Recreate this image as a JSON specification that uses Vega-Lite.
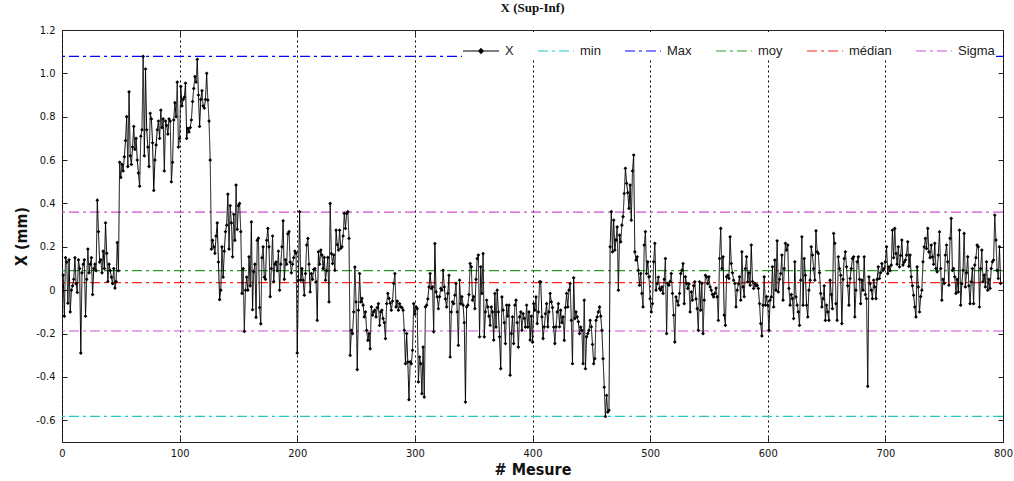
{
"$schema": "https://vega.github.io/schema/vega-lite/v6.json",
"autosize": "none",
"width": 941,
"height": 412,
"padding": {"left": 62, "top": 30, "right": 11, "bottom": 39},
"background": "white",
"title": {"text": "X (Sup-Inf)", "font": "Liberation Serif", "fontSize": 13, "fontWeight": "bold", "color": "#111", "anchor": "middle", "offset": 9},
"config": {"view": {"stroke": "#222", "strokeWidth": 1}, "font": "'DejaVu Sans Condensed', 'Liberation Sans', sans-serif",
"legend": {"orient": "none", "legendX": 400, "legendY": 2, "direction": "horizontal", "columns": 6, "fillColor": "white", "strokeColor": "white", "padding": 0, "columnPadding": 21, "symbolSize": 1296, "symbolStrokeWidth": 1.2, "symbolType": "stroke", "labelFont": "Liberation Sans", "labelFontSize": 13, "labelColor": "#222", "labelOffset": 5}},
"datasets": {
"ref": [{"name": "min", "y": -0.582}, {"name": "Max", "y": 1.078}, {"name": "moy", "y": 0.09}, {"name": "médian", "y": 0.035}, {"name": "Sigma", "y": 0.36}, {"name": "Sigma", "y": -0.188}],
"ser": [
{"m":1,"x":0.07},{"m":2,"x":-0.12},{"m":3,"x":0.15},{"m":4,"x":0.13},{"m":5,"x":-0.06},{"m":6,"x":0.14},{"m":7,"x":-0.10},{"m":8,"x":0.0},{"m":9,"x":0.02},{"m":10,"x":0.05},
{"m":11,"x":0.15},{"m":12,"x":0.03},{"m":13,"x":-0.01},{"m":14,"x":0.14},{"m":15,"x":0.10},{"m":16,"x":-0.29},{"m":17,"x":0.08},{"m":18,"x":0.12},{"m":19,"x":0.14},{"m":20,"x":-0.12},
{"m":21,"x":0.05},{"m":22,"x":0.19},{"m":23,"x":0.08},{"m":24,"x":0.12},{"m":25,"x":0.15},{"m":26,"x":-0.02},{"m":27,"x":0.10},{"m":28,"x":0.12},{"m":29,"x":0.09},{"m":30,"x":0.415},
{"m":31,"x":0.27},{"m":32,"x":0.13},{"m":33,"x":0.14},{"m":34,"x":0.08},{"m":35,"x":0.18},{"m":36,"x":0.10},{"m":37,"x":0.31},{"m":38,"x":0.17},{"m":39,"x":0.04},{"m":40,"x":0.12},
{"m":41,"x":0.09},{"m":42,"x":0.06},{"m":43,"x":0.03},{"m":44,"x":0.10},{"m":45,"x":0.01},{"m":46,"x":0.04},{"m":47,"x":0.22},{"m":48,"x":0.09},{"m":49,"x":0.59},{"m":50,"x":0.52},
{"m":51,"x":0.58},{"m":52,"x":0.55},{"m":53,"x":0.615},{"m":54,"x":0.69},{"m":55,"x":0.80},{"m":56,"x":0.57},{"m":57,"x":0.915},{"m":58,"x":0.62},{"m":59,"x":0.58},{"m":60,"x":0.66},
{"m":61,"x":0.755},{"m":62,"x":0.65},{"m":63,"x":0.70},{"m":64,"x":0.60},{"m":65,"x":0.54},{"m":66,"x":0.48},{"m":67,"x":0.71},{"m":68,"x":0.74},{"m":69,"x":1.078},{"m":70,"x":0.62},
{"m":71,"x":1.02},{"m":72,"x":0.74},{"m":73,"x":0.66},{"m":74,"x":0.57},{"m":75,"x":0.816},{"m":76,"x":0.79},{"m":77,"x":0.68},{"m":78,"x":0.46},{"m":79,"x":0.60},{"m":80,"x":0.67},
{"m":81,"x":0.74},{"m":82,"x":0.78},{"m":83,"x":0.70},{"m":84,"x":0.83},{"m":85,"x":0.75},{"m":86,"x":0.79},{"m":87,"x":0.55},{"m":88,"x":0.78},{"m":89,"x":0.76},{"m":90,"x":0.72},
{"m":91,"x":0.79},{"m":92,"x":0.78},{"m":93,"x":0.50},{"m":94,"x":0.59},{"m":95,"x":0.785},{"m":96,"x":0.865},{"m":97,"x":0.80},{"m":98,"x":0.96},{"m":99,"x":0.66},{"m":100,"x":0.70},
{"m":101,"x":0.94},{"m":102,"x":0.85},{"m":103,"x":0.88},{"m":104,"x":0.89},{"m":105,"x":0.955},{"m":106,"x":0.70},{"m":107,"x":0.746},{"m":108,"x":0.73},{"m":109,"x":0.75},{"m":110,"x":0.785},
{"m":111,"x":0.87},{"m":112,"x":0.93},{"m":113,"x":0.985},{"m":114,"x":0.96},{"m":115,"x":1.065},{"m":116,"x":0.90},{"m":117,"x":0.755},{"m":118,"x":0.88},{"m":119,"x":0.92},{"m":120,"x":0.85},
{"m":121,"x":0.84},{"m":122,"x":0.88},{"m":123,"x":1.0},{"m":124,"x":0.877},{"m":125,"x":0.78},{"m":126,"x":0.60},{"m":127,"x":0.19},{"m":128,"x":0.23},{"m":129,"x":0.20},{"m":130,"x":0.17},
{"m":131,"x":0.25},{"m":132,"x":0.31},{"m":133,"x":0.13},{"m":134,"x":-0.043},{"m":135,"x":0.0},{"m":136,"x":0.20},{"m":137,"x":0.06},{"m":138,"x":0.18},{"m":139,"x":0.27},{"m":140,"x":0.30},
{"m":141,"x":0.443},{"m":142,"x":0.19},{"m":143,"x":0.39},{"m":144,"x":0.31},{"m":145,"x":0.154},{"m":146,"x":0.35},{"m":147,"x":0.23},{"m":148,"x":0.485},{"m":149,"x":0.28},{"m":150,"x":0.39},
{"m":151,"x":0.40},{"m":152,"x":0.27},{"m":153,"x":-0.015},{"m":154,"x":0.10},{"m":155,"x":-0.19},{"m":156,"x":0.0},{"m":157,"x":0.06},{"m":158,"x":0.0},{"m":159,"x":0.154},{"m":160,"x":0.02},
{"m":161,"x":0.315},{"m":162,"x":-0.09},{"m":163,"x":0.085},{"m":164,"x":0.12},{"m":165,"x":-0.125},{"m":166,"x":0.23},{"m":167,"x":0.24},{"m":168,"x":-0.08},{"m":169,"x":-0.155},{"m":170,"x":0.15},
{"m":171,"x":0.20},{"m":172,"x":0.06},{"m":173,"x":0.05},{"m":174,"x":0.23},{"m":175,"x":0.285},{"m":176,"x":0.20},{"m":177,"x":-0.03},{"m":178,"x":0.10},{"m":179,"x":0.25},{"m":180,"x":0.04},
{"m":181,"x":0.12},{"m":182,"x":0.13},{"m":183,"x":0.09},{"m":184,"x":0.18},{"m":185,"x":0.0},{"m":186,"x":0.12},{"m":187,"x":0.20},{"m":188,"x":0.32},{"m":189,"x":0.05},{"m":190,"x":0.14},
{"m":191,"x":0.12},{"m":192,"x":0.26},{"m":193,"x":0.27},{"m":194,"x":0.13},{"m":195,"x":0.08},{"m":196,"x":0.12},{"m":197,"x":0.15},{"m":198,"x":0.18},{"m":199,"x":0.17},{"m":200,"x":-0.29},
{"m":201,"x":0.046},{"m":202,"x":0.362},{"m":203,"x":0.046},{"m":204,"x":0.10},{"m":205,"x":0.046},{"m":206,"x":-0.023},{"m":207,"x":0.077},{"m":208,"x":0.208},{"m":209,"x":0.239},{"m":210,"x":0.12},
{"m":211,"x":-0.008},{"m":212,"x":0.077},{"m":213,"x":0.05},{"m":214,"x":0.095},{"m":215,"x":0.10},{"m":216,"x":0.038},{"m":217,"x":-0.139},{"m":218,"x":0.177},{"m":219,"x":0.12},{"m":220,"x":0.185},
{"m":221,"x":0.162},{"m":222,"x":0.10},{"m":223,"x":0.151},{"m":224,"x":0.046},{"m":225,"x":0.09},{"m":226,"x":0.151},{"m":227,"x":-0.054},{"m":228,"x":0.40},{"m":229,"x":0.169},{"m":230,"x":0.123},
{"m":231,"x":0.162},{"m":232,"x":0.092},{"m":233,"x":0.277},{"m":234,"x":0.21},{"m":235,"x":0.185},{"m":236,"x":0.277},{"m":237,"x":0.193},{"m":238,"x":0.2},{"m":239,"x":0.25},{"m":240,"x":0.354},
{"m":241,"x":0.285},{"m":242,"x":0.354},{"m":243,"x":0.362},{"m":244,"x":0.239},{"m":245,"x":-0.30},{"m":246,"x":-0.185},{"m":247,"x":-0.2},{"m":248,"x":-0.10},{"m":249,"x":0.107},{"m":250,"x":-0.054},
{"m":251,"x":-0.366},{"m":252,"x":-0.092},{"m":253,"x":0.077},{"m":254,"x":-0.054},{"m":255,"x":-0.038},{"m":256,"x":-0.069},{"m":257,"x":-0.123},{"m":258,"x":-0.10},{"m":259,"x":-0.185},{"m":260,"x":-0.231},
{"m":261,"x":-0.20},{"m":262,"x":-0.27},{"m":263,"x":-0.077},{"m":264,"x":-0.115},{"m":265,"x":-0.10},{"m":266,"x":-0.092},{"m":267,"x":-0.123},{"m":268,"x":-0.08},{"m":269,"x":-0.062},{"m":270,"x":-0.162},
{"m":271,"x":-0.10},{"m":272,"x":-0.092},{"m":273,"x":-0.131},{"m":274,"x":-0.15},{"m":275,"x":-0.223},{"m":276,"x":-0.062},{"m":277,"x":-0.015},{"m":278,"x":-0.038},{"m":279,"x":-0.06},{"m":280,"x":-0.092},
{"m":281,"x":-0.05},{"m":282,"x":0.031},{"m":283,"x":0.077},{"m":284,"x":-0.077},{"m":285,"x":-0.05},{"m":286,"x":-0.092},{"m":287,"x":-0.062},{"m":288,"x":-0.077},{"m":289,"x":-0.08},{"m":290,"x":-0.092},
{"m":291,"x":-0.185},{"m":292,"x":-0.339},{"m":293,"x":-0.20},{"m":294,"x":-0.331},{"m":295,"x":-0.505},{"m":296,"x":-0.331},{"m":297,"x":-0.339},{"m":298,"x":-0.277},{"m":299,"x":-0.062},{"m":300,"x":-0.11},
{"m":301,"x":-0.077},{"m":302,"x":-0.085},{"m":303,"x":-0.423},{"m":304,"x":-0.308},{"m":305,"x":-0.339},{"m":306,"x":-0.477},{"m":307,"x":-0.262},{"m":308,"x":-0.493},{"m":309,"x":-0.077},{"m":310,"x":-0.069},
{"m":311,"x":-0.04},{"m":312,"x":0.015},{"m":313,"x":0.077},{"m":314,"x":0.008},{"m":315,"x":0.015},{"m":316,"x":-0.192},{"m":317,"x":0.215},{"m":318,"x":-0.008},{"m":319,"x":-0.031},{"m":320,"x":-0.085},
{"m":321,"x":-0.03},{"m":322,"x":0.008},{"m":323,"x":0.0},{"m":324,"x":0.092},{"m":325,"x":0.015},{"m":326,"x":-0.04},{"m":327,"x":-0.077},{"m":328,"x":-0.015},{"m":329,"x":0.069},{"m":330,"x":-0.308},
{"m":331,"x":-0.10},{"m":332,"x":-0.054},{"m":333,"x":-0.062},{"m":334,"x":-0.023},{"m":335,"x":0.031},{"m":336,"x":-0.10},{"m":337,"x":-0.254},{"m":338,"x":0.046},{"m":339,"x":-0.062},{"m":340,"x":-0.03},
{"m":341,"x":-0.069},{"m":342,"x":-0.15},{"m":343,"x":-0.516},{"m":344,"x":-0.077},{"m":345,"x":-0.069},{"m":346,"x":-0.02},{"m":347,"x":0.123},{"m":348,"x":0.108},{"m":349,"x":-0.046},{"m":350,"x":-0.03},
{"m":351,"x":-0.085},{"m":352,"x":0.05},{"m":353,"x":0.146},{"m":354,"x":0.162},{"m":355,"x":-0.215},{"m":356,"x":0.108},{"m":357,"x":-0.015},{"m":358,"x":0.169},{"m":359,"x":-0.215},{"m":360,"x":-0.10},
{"m":361,"x":-0.046},{"m":362,"x":-0.077},{"m":363,"x":-0.12},{"m":364,"x":-0.162},{"m":365,"x":-0.077},{"m":366,"x":-0.10},{"m":367,"x":-0.23},{"m":368,"x":-0.015},{"m":369,"x":-0.17},{"m":370,"x":0.0},
{"m":371,"x":-0.10},{"m":372,"x":-0.215},{"m":373,"x":-0.362},{"m":374,"x":-0.031},{"m":375,"x":-0.092},{"m":376,"x":-0.15},{"m":377,"x":-0.246},{"m":378,"x":-0.069},{"m":379,"x":-0.12},{"m":380,"x":-0.069},
{"m":381,"x":-0.392},{"m":382,"x":-0.20},{"m":383,"x":-0.123},{"m":384,"x":-0.246},{"m":385,"x":-0.069},{"m":386,"x":-0.046},{"m":387,"x":-0.15},{"m":388,"x":-0.262},{"m":389,"x":-0.123},{"m":390,"x":-0.10},
{"m":391,"x":-0.185},{"m":392,"x":-0.108},{"m":393,"x":-0.13},{"m":394,"x":-0.17},{"m":395,"x":-0.069},{"m":396,"x":-0.17},{"m":397,"x":-0.10},{"m":398,"x":-0.23},{"m":399,"x":-0.12},{"m":400,"x":-0.24},
{"m":401,"x":-0.062},{"m":402,"x":-0.092},{"m":403,"x":-0.031},{"m":404,"x":-0.154},{"m":405,"x":-0.10},{"m":406,"x":0.038},{"m":407,"x":0.038},{"m":408,"x":-0.123},{"m":409,"x":-0.223},{"m":410,"x":-0.169},
{"m":411,"x":-0.108},{"m":412,"x":-0.062},{"m":413,"x":-0.169},{"m":414,"x":-0.10},{"m":415,"x":-0.015},{"m":416,"x":-0.054},{"m":417,"x":-0.08},{"m":418,"x":-0.17},{"m":419,"x":-0.246},{"m":420,"x":-0.169},
{"m":421,"x":-0.10},{"m":422,"x":-0.062},{"m":423,"x":-0.169},{"m":424,"x":-0.092},{"m":425,"x":-0.15},{"m":426,"x":-0.123},{"m":427,"x":-0.231},{"m":428,"x":-0.08},{"m":429,"x":-0.015},{"m":430,"x":-0.077},
{"m":431,"x":0.0},{"m":432,"x":0.031},{"m":433,"x":-0.139},{"m":434,"x":-0.339},{"m":435,"x":0.057},{"m":436,"x":-0.131},{"m":437,"x":-0.10},{"m":438,"x":-0.123},{"m":439,"x":-0.146},{"m":440,"x":-0.20},
{"m":441,"x":-0.17},{"m":442,"x":-0.185},{"m":443,"x":-0.339},{"m":444,"x":-0.046},{"m":445,"x":-0.362},{"m":446,"x":-0.215},{"m":447,"x":-0.20},{"m":448,"x":-0.185},{"m":449,"x":-0.139},{"m":450,"x":-0.169},
{"m":451,"x":-0.25},{"m":452,"x":-0.339},{"m":453,"x":-0.316},{"m":454,"x":-0.139},{"m":455,"x":-0.123},{"m":456,"x":-0.10},{"m":457,"x":-0.077},{"m":458,"x":-0.12},{"m":459,"x":-0.185},{"m":460,"x":-0.316},
{"m":461,"x":-0.447},{"m":462,"x":-0.582},{"m":463,"x":-0.485},{"m":464,"x":-0.562},{"m":465,"x":-0.554},{"m":466,"x":0.20},{"m":467,"x":0.362},{"m":468,"x":0.177},{"m":469,"x":0.323},{"m":470,"x":0.185},
{"m":471,"x":0.231},{"m":472,"x":0.292},{"m":473,"x":0.0},{"m":474,"x":0.254},{"m":475,"x":0.223},{"m":476,"x":0.30},{"m":477,"x":0.339},{"m":478,"x":0.446},{"m":479,"x":0.562},{"m":480,"x":0.493},
{"m":481,"x":0.45},{"m":482,"x":0.377},{"m":483,"x":0.485},{"m":484,"x":0.323},{"m":485,"x":0.55},{"m":486,"x":0.623},{"m":487,"x":0.177},{"m":488,"x":0.139},{"m":489,"x":0.154},{"m":490,"x":0.092},
{"m":491,"x":0.023},{"m":492,"x":0.077},{"m":493,"x":-0.015},{"m":494,"x":-0.077},{"m":495,"x":0.208},{"m":496,"x":0.27},{"m":497,"x":0.077},{"m":498,"x":0.131},{"m":499,"x":0.062},{"m":500,"x":-0.039},
{"m":501,"x":-0.10},{"m":502,"x":-0.062},{"m":503,"x":0.131},{"m":504,"x":0.216},{"m":505,"x":0.0},{"m":506,"x":0.031},{"m":507,"x":0.06},{"m":508,"x":0.008},{"m":509,"x":0.0},{"m":510,"x":0.015},
{"m":511,"x":-0.015},{"m":512,"x":0.05},{"m":513,"x":0.146},{"m":514,"x":-0.20},{"m":515,"x":0.031},{"m":516,"x":0.023},{"m":517,"x":0.04},{"m":518,"x":0.077},{"m":519,"x":-0.015},{"m":520,"x":-0.115},
{"m":521,"x":-0.239},{"m":522,"x":-0.031},{"m":523,"x":-0.05},{"m":524,"x":-0.069},{"m":525,"x":-0.015},{"m":526,"x":0.077},{"m":527,"x":0.092},{"m":528,"x":0.123},{"m":529,"x":-0.062},{"m":530,"x":0.062},
{"m":531,"x":0.031},{"m":532,"x":0.008},{"m":533,"x":0.03},{"m":534,"x":-0.10},{"m":535,"x":-0.008},{"m":536,"x":-0.046},{"m":537,"x":0.02},{"m":538,"x":0.039},{"m":539,"x":-0.04},{"m":540,"x":-0.085},
{"m":541,"x":-0.185},{"m":542,"x":0.039},{"m":543,"x":-0.092},{"m":544,"x":0.031},{"m":545,"x":-0.20},{"m":546,"x":-0.046},{"m":547,"x":0.069},{"m":548,"x":0.062},{"m":549,"x":0.03},{"m":550,"x":0.062},
{"m":551,"x":0.015},{"m":552,"x":0.0},{"m":553,"x":-0.02},{"m":554,"x":-0.031},{"m":555,"x":-0.015},{"m":556,"x":0.01},{"m":557,"x":-0.031},{"m":558,"x":-0.139},{"m":559,"x":0.146},{"m":560,"x":0.285},
{"m":561,"x":0.10},{"m":562,"x":0.154},{"m":563,"x":-0.115},{"m":564,"x":-0.162},{"m":565,"x":0.062},{"m":566,"x":0.069},{"m":567,"x":0.054},{"m":568,"x":0.246},{"m":569,"x":0.123},{"m":570,"x":0.08},
{"m":571,"x":0.046},{"m":572,"x":0.031},{"m":573,"x":-0.077},{"m":574,"x":0.0},{"m":575,"x":0.03},{"m":576,"x":0.062},{"m":577,"x":-0.046},{"m":578,"x":0.177},{"m":579,"x":0.015},{"m":580,"x":-0.03},
{"m":581,"x":0.10},{"m":582,"x":0.154},{"m":583,"x":0.039},{"m":584,"x":0.08},{"m":585,"x":0.023},{"m":586,"x":0.208},{"m":587,"x":0.04},{"m":588,"x":0.008},{"m":589,"x":0.031},{"m":590,"x":0.02},
{"m":591,"x":0.023},{"m":592,"x":0.008},{"m":593,"x":-0.062},{"m":594,"x":-0.154},{"m":595,"x":-0.211},{"m":596,"x":-0.069},{"m":597,"x":0.062},{"m":598,"x":-0.069},{"m":599,"x":-0.03},{"m":600,"x":-0.069},
{"m":601,"x":-0.185},{"m":602,"x":-0.046},{"m":603,"x":-0.031},{"m":604,"x":0.108},{"m":605,"x":-0.077},{"m":606,"x":0.139},{"m":607,"x":0.0},{"m":608,"x":0.228},{"m":609,"x":-0.008},{"m":610,"x":0.05},
{"m":611,"x":0.077},{"m":612,"x":0.162},{"m":613,"x":-0.046},{"m":614,"x":0.10},{"m":615,"x":0.216},{"m":616,"x":0.185},{"m":617,"x":0.208},{"m":618,"x":0.008},{"m":619,"x":-0.069},{"m":620,"x":-0.02},
{"m":621,"x":-0.039},{"m":622,"x":-0.131},{"m":623,"x":0.131},{"m":624,"x":-0.031},{"m":625,"x":-0.069},{"m":626,"x":-0.10},{"m":627,"x":-0.162},{"m":628,"x":0.046},{"m":629,"x":0.246},{"m":630,"x":-0.069},
{"m":631,"x":0.146},{"m":632,"x":0.069},{"m":633,"x":-0.069},{"m":634,"x":-0.123},{"m":635,"x":0.0},{"m":636,"x":0.046},{"m":637,"x":0.2},{"m":638,"x":0.162},{"m":639,"x":0.10},{"m":640,"x":0.046},
{"m":641,"x":0.274},{"m":642,"x":0.177},{"m":643,"x":0.169},{"m":644,"x":0.08},{"m":645,"x":-0.015},{"m":646,"x":-0.077},{"m":647,"x":-0.039},{"m":648,"x":0.02},{"m":649,"x":-0.139},{"m":650,"x":-0.069},
{"m":651,"x":-0.10},{"m":652,"x":-0.139},{"m":653,"x":0.046},{"m":654,"x":-0.02},{"m":655,"x":-0.085},{"m":656,"x":0.262},{"m":657,"x":0.216},{"m":658,"x":-0.062},{"m":659,"x":-0.139},{"m":660,"x":0.154},
{"m":661,"x":0.10},{"m":662,"x":0.069},{"m":663,"x":-0.154},{"m":664,"x":0.05},{"m":665,"x":0.146},{"m":666,"x":0.177},{"m":667,"x":0.108},{"m":668,"x":0.02},{"m":669,"x":-0.069},{"m":670,"x":0.054},
{"m":671,"x":0.10},{"m":672,"x":0.146},{"m":673,"x":0.154},{"m":674,"x":-0.123},{"m":675,"x":0.0},{"m":676,"x":0.131},{"m":677,"x":0.154},{"m":678,"x":0.05},{"m":679,"x":-0.062},{"m":680,"x":0.046},
{"m":681,"x":0.0},{"m":682,"x":0.154},{"m":683,"x":-0.02},{"m":684,"x":-0.039},{"m":685,"x":-0.443},{"m":686,"x":0.062},{"m":687,"x":0.03},{"m":688,"x":0.0},{"m":689,"x":-0.039},{"m":690,"x":0.046},
{"m":691,"x":0.015},{"m":692,"x":-0.039},{"m":693,"x":0.05},{"m":694,"x":0.108},{"m":695,"x":0.054},{"m":696,"x":0.08},{"m":697,"x":0.123},{"m":698,"x":0.092},{"m":699,"x":0.10},{"m":700,"x":0.131},
{"m":701,"x":0.2},{"m":702,"x":0.077},{"m":703,"x":0.108},{"m":704,"x":0.09},{"m":705,"x":0.116},{"m":706,"x":0.277},{"m":707,"x":0.15},{"m":708,"x":0.285},{"m":709,"x":0.169},{"m":710,"x":0.12},
{"m":711,"x":0.2},{"m":712,"x":0.108},{"m":713,"x":0.16},{"m":714,"x":0.231},{"m":715,"x":0.116},{"m":716,"x":0.13},{"m":717,"x":0.139},{"m":718,"x":0.162},{"m":719,"x":0.223},{"m":720,"x":0.11},
{"m":721,"x":0.162},{"m":722,"x":0.062},{"m":723,"x":0.02},{"m":724,"x":-0.023},{"m":725,"x":-0.077},{"m":726,"x":-0.123},{"m":727,"x":0.108},{"m":728,"x":0.015},{"m":729,"x":-0.10},{"m":730,"x":-0.03},
{"m":731,"x":0.0},{"m":732,"x":0.131},{"m":733,"x":0.20},{"m":734,"x":0.239},{"m":735,"x":0.192},{"m":736,"x":0.285},{"m":737,"x":0.177},{"m":738,"x":0.15},{"m":739,"x":0.208},{"m":740,"x":0.154},
{"m":741,"x":0.12},{"m":742,"x":0.216},{"m":743,"x":0.10},{"m":744,"x":0.085},{"m":745,"x":0.162},{"m":746,"x":0.269},{"m":747,"x":0.10},{"m":748,"x":-0.046},{"m":749,"x":0.05},{"m":750,"x":0.031},
{"m":751,"x":0.162},{"m":752,"x":0.208},{"m":753,"x":0.131},{"m":754,"x":0.023},{"m":755,"x":0.239},{"m":756,"x":0.331},{"m":757,"x":0.092},{"m":758,"x":0.10},{"m":759,"x":0.062},{"m":760,"x":-0.015},
{"m":761,"x":0.05},{"m":762,"x":-0.008},{"m":763,"x":0.277},{"m":764,"x":-0.069},{"m":765,"x":0.03},{"m":766,"x":0.092},{"m":767,"x":0.262},{"m":768,"x":0.015},{"m":769,"x":0.08},{"m":770,"x":0.154},
{"m":771,"x":0.02},{"m":772,"x":-0.062},{"m":773,"x":0.039},{"m":774,"x":0.10},{"m":775,"x":-0.062},{"m":776,"x":0.116},{"m":777,"x":0.15},{"m":778,"x":0.208},{"m":779,"x":0.2},{"m":780,"x":-0.077},
{"m":781,"x":0.10},{"m":782,"x":0.185},{"m":783,"x":0.039},{"m":784,"x":0.07},{"m":785,"x":0.015},{"m":786,"x":0.131},{"m":787,"x":0.0},{"m":788,"x":0.05},{"m":789,"x":0.008},{"m":790,"x":0.10},
{"m":791,"x":0.131},{"m":792,"x":0.139},{"m":793,"x":0.346},{"m":794,"x":0.231},{"m":795,"x":0.092},{"m":796,"x":0.054},{"m":797,"x":0.2},{"m":798,"x":0.031}
]
},
"layer": [
{
"data": {"name": "ref"},
"mark": {"type": "rule", "strokeWidth": 1.2},
"encoding": {
"y": {"field": "y", "type": "quantitative", "scale": {"domain": [-0.7, 1.2], "nice": false, "zero": false}, "axis": null},
"color": {"field": "name", "type": "nominal", "title": null,
"legend": {"title": null, "encode": {"symbols": {"update": {"shape": {"signal": "datum.value === 'X' ? 'M-1,0H1M-0.13,0L0,-0.13L0.13,0L0,0.13Z' : 'stroke'"}, "strokeDash": {"signal": "datum.value === 'X' ? [1,0] : [10,4,3,4]"}, "fill": {"signal": "datum.value === 'X' ? 'black' : 'transparent'"}}}}}},
"strokeDash": {"field": "name", "type": "nominal", "title": null, "legend": null}
}
},
{
"data": {"name": "ser"},
"mark": {"type": "line", "strokeWidth": 1, "point": {"filled": true, "shape": "diamond", "size": 14, "color": "black"}},
"encoding": {
"x": {"field": "m", "type": "quantitative", "scale": {"domain": [0, 800], "nice": false, "zero": false},
"axis": {"orient": "bottom", "values": [0,100,200,300,400,500,600,700,800], "grid": true, "gridDash": [2,3], "gridColor": "black", "gridOpacity": 1, "gridWidth": 1, "domain": false, "ticks": true, "tickSize": -5, "tickColor": "#222", "labelFont": "'DejaVu Sans Condensed', 'Liberation Sans', sans-serif", "labelFontSize": 11, "labelColor": "#111", "labelPadding": 10, "labelFlush": false, "title": "# Mesure", "titleFont": "'DejaVu Sans Condensed', 'Liberation Sans', sans-serif", "titleFontSize": 16, "titleFontWeight": "bold", "titleColor": "#111", "titlePadding": 3}},
"y": {"field": "x", "type": "quantitative", "scale": {"domain": [-0.7, 1.2], "nice": false, "zero": false},
"axis": {"orient": "left", "values": [-0.6,-0.4,-0.2,0,0.2,0.4,0.6,0.8,1,1.2], "grid": false, "domain": false, "ticks": true, "tickSize": -5, "tickColor": "#222", "labelFont": "'DejaVu Sans Condensed', 'Liberation Sans', sans-serif", "labelFontSize": 11, "labelColor": "#111", "labelPadding": 12, "labelFlush": false, "labelExpr": "abs(datum.value) < 1e-9 ? '0' : replace(format(datum.value, '.1f'), '\u2212', '-')", "title": "X (mm)", "titleFont": "'DejaVu Sans Condensed', 'Liberation Sans', sans-serif", "titleFontSize": 16, "titleFontWeight": "bold", "titleColor": "#111", "titlePadding": 6}},
"color": {"datum": "X", "type": "nominal", "title": null, "scale": {"domain": ["X","min","Max","moy","médian","Sigma"], "range": ["#000000","#22C8C8","#0000FF","#2E9A2E","#FF2222","#D050D0"]},
"legend": {"title": null, "encode": {"symbols": {"update": {"shape": {"signal": "datum.value === 'X' ? 'M-1,0H1M-0.13,0L0,-0.13L0.13,0L0,0.13Z' : 'stroke'"}, "strokeDash": {"signal": "datum.value === 'X' ? [1,0] : [10,4,3,4]"}, "fill": {"signal": "datum.value === 'X' ? 'black' : 'transparent'"}}}}}},
"strokeDash": {"datum": "X", "type": "nominal", "title": null, "scale": {"domain": ["X","min","Max","moy","médian","Sigma"], "range": [[1,0],[10,4,3,4],[10,4,3,4],[10,4,3,4],[10,4,3,4],[10,4,3,4]]}, "legend": null}
}
},
{
"data": {"name": "ser"},
"mark": {"type": "point", "opacity": 0},
"encoding": {
"x": {"field": "m", "type": "quantitative", "axis": {"orient": "top", "values": [0,100,200,300,400,500,600,700,800], "labels": false, "title": null, "domain": false, "grid": false, "tickSize": -5, "tickColor": "#222"}},
"y": {"field": "x", "type": "quantitative", "axis": {"orient": "right", "values": [-0.6,-0.4,-0.2,0,0.2,0.4,0.6,0.8,1,1.2], "labels": false, "title": null, "domain": false, "grid": false, "tickSize": -5, "tickColor": "#222"}}
}
}
],
"resolve": {"axis": {"x": "independent", "y": "independent"}}
}
